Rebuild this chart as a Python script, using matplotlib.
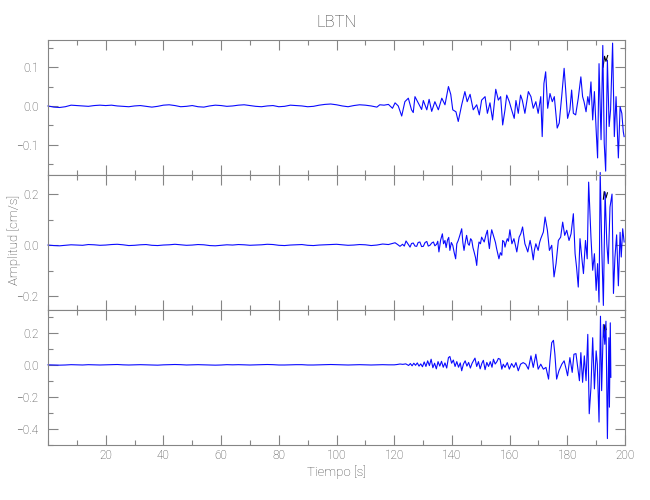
import numpy as np
import matplotlib
matplotlib.use('Agg')
import matplotlib.pyplot as plt
from matplotlib.ticker import MultipleLocator, FixedLocator, FuncFormatter

plt.rcParams['font.family'] = ['Roboto', 'DejaVu Sans']
plt.rcParams['font.weight'] = 'light'
plt.rcParams['axes.labelweight'] = 'light'

GRAY = '#858585'
TEXT = '#404040'
TRACE = '#0a0aff'

# ---- top trace (quiet part sampled every 2 s, then read point by point)
top_quiet = [0.000, -0.003, -0.004, -0.002, 0.002, 0.001, 0.000, -0.001, 0.001, 0.002,
             0.001, 0.002, 0.000, -0.001, -0.002, 0.000, 0.001, -0.001, -0.003, -0.001,
             0.002, 0.003, 0.001, -0.002, -0.001, 0.001, -0.002, -0.003, 0.000, 0.002,
             0.001, -0.001, 0.000, 0.002, 0.003, 0.001, -0.001, -0.002, 0.000, 0.001,
             -0.002, -0.001, 0.002, 0.001, 0.000, -0.002, -0.001, 0.002, 0.004, 0.005,
             0.003, 0.000, -0.002, 0.001, 0.003, 0.002, 0.000, -0.003]
top_t = [115.0, 116.5, 118.0, 119.4, 120.3, 121.4, 122.6, 123.7, 124.9, 126.0, 126.6, 127.2,
         128.4, 129.5, 130.1, 131.3, 132.1, 133.0, 134.1, 135.3, 136.5, 137.6, 138.8, 139.6,
         140.3, 141.4, 142.2, 143.4, 144.5, 145.3, 146.3, 147.4, 148.6, 149.5, 150.3, 151.5,
         152.3, 153.2, 154.1, 155.2, 156.1, 156.9, 157.6, 158.4, 159.0, 159.9, 160.7, 161.6,
         162.2, 163.0, 163.8, 164.4, 165.3, 166.5, 167.4, 168.2, 169.1, 169.9, 170.8, 171.3,
         171.9, 172.5, 173.2, 174.0, 174.8, 175.5, 176.1, 176.5, 177.2, 178.1, 178.9, 179.4,
         180.1, 180.9, 181.5, 182.1, 182.9, 183.8, 184.7, 185.3, 185.8, 186.5, 187.1, 187.6,
         188.2, 188.8, 189.4, 190.0, 190.5, 191.0, 191.7, 192.3, 192.8, 193.3, 193.9, 194.5,
         195.0, 195.7, 196.3, 196.9, 197.7, 198.3, 198.9, 199.4, 199.7]
top_v = [0.003, 0.002, 0.004, -0.006, 0.008, 0.000, -0.026, 0.011, 0.020, -0.010, -0.017, 0.024,
         0.007, -0.009, 0.014, -0.010, 0.017, -0.014, 0.011, -0.010, 0.020, 0.003, 0.050, 0.030,
         -0.010, -0.015, -0.040, 0.003, 0.037, 0.011, 0.030, -0.010, 0.003, -0.023, 0.015, 0.024,
         -0.019, 0.008, -0.036, 0.043, 0.015, 0.024, -0.049, -0.010, 0.028, 0.011, -0.010, -0.032,
         0.014, -0.019, 0.028, 0.015, -0.019, 0.037, 0.024, -0.006, 0.011, -0.019, 0.024, -0.079,
         0.058, 0.088, -0.006, 0.032, 0.011, 0.024, -0.023, -0.057, -0.044, 0.028, 0.097, 0.045,
         -0.032, -0.010, 0.041, -0.019, -0.023, 0.020, 0.075, 0.024, 0.011, -0.015, 0.024, 0.003,
         0.062, -0.036, 0.037, -0.062, -0.134, 0.109, -0.087, 0.156, -0.096, -0.168, 0.118, -0.053,
         -0.010, 0.162, -0.079, 0.024, -0.134, -0.002, -0.019, -0.066, -0.079]

# ---- middle trace
mid_quiet = [0.000, -0.002, -0.003, -0.001, 0.001, 0.000, -0.001, 0.002, 0.001, -0.001,
             0.000, 0.002, 0.003, 0.001, -0.002, -0.001, 0.001, 0.002, -0.001, -0.002,
             0.000, 0.001, 0.003, 0.001, -0.001, 0.000, 0.002, 0.001, -0.002, -0.003,
             -0.001, 0.001, 0.000, 0.002, 0.001, -0.001, 0.000, 0.001, 0.003, 0.002,
             -0.001, -0.002, 0.000, 0.001, 0.002, -0.001, -0.002, 0.000, 0.001, 0.002,
             0.003, 0.001, -0.001, 0.000, 0.002, 0.001, -0.002, 0.000, 0.004, 0.002]
mid_t = [120.3, 121.2, 122.0, 122.9, 123.5, 124.1, 124.8, 125.5, 126.0, 126.6, 127.2, 127.8,
         128.3, 128.9, 129.5, 130.1, 130.7, 131.3, 131.8, 132.4, 133.0, 133.6, 134.1, 134.7,
         135.1, 135.5, 136.1, 136.7, 137.1, 137.6, 138.0, 138.5, 138.9, 139.3, 139.8, 140.3,
         140.8, 141.3, 141.7, 142.2, 142.8, 143.4, 143.8, 144.2, 144.7, 145.1, 145.6, 146.0,
         146.5, 146.9, 147.3, 147.7, 148.2, 148.6, 149.0, 149.4, 149.9, 150.3, 150.8, 151.2,
         151.8, 152.3, 152.7, 153.0, 153.4, 153.8, 154.2, 154.6, 155.1, 155.5, 156.0, 156.3,
         156.8, 157.3, 157.6, 158.1, 158.4, 158.8, 159.2, 159.6, 160.1, 160.8, 161.5, 162.0,
         162.5, 163.3, 163.9, 164.5, 165.3, 165.8, 166.3, 167.1, 167.6, 168.2, 168.6, 169.1,
         169.9, 170.4, 170.8, 171.7, 172.3, 172.7, 173.1, 173.8, 174.6, 175.0, 175.4, 176.1,
         176.9, 177.7, 178.4, 179.1, 179.8, 180.6, 181.3, 182.1, 182.7, 183.2, 183.8, 184.4,
         185.0, 185.6, 186.3, 186.9, 187.4, 188.2, 188.8, 189.4, 190.0, 190.5, 191.0, 191.4,
         192.0, 192.5, 193.1, 193.7, 194.2, 194.8, 195.5, 196.0, 196.5, 197.1, 197.7, 198.3,
         198.7, 199.2, 199.7]
mid_v = [0.009, 0.002, -0.005, 0.003, -0.004, 0.016, 0.004, -0.008, 0.006, 0.008, -0.004, -0.005,
         0.010, 0.012, -0.006, -0.005, 0.010, 0.014, -0.004, -0.001, 0.008, 0.012, -0.003, 0.003,
         0.015, -0.027, 0.020, 0.044, 0.005, 0.018, -0.010, 0.021, 0.030, -0.021, 0.010, -0.001,
         -0.030, -0.054, 0.005, 0.018, 0.040, 0.064, 0.010, -0.021, 0.015, 0.038, 0.005, -0.001,
         0.025, 0.018, -0.010, -0.027, -0.050, -0.080, -0.020, 0.012, 0.005, 0.031, 0.020, 0.012,
         0.040, 0.058, 0.010, -0.014, 0.030, 0.060, 0.045, 0.031, 0.010, -0.014, -0.040, -0.054,
         -0.030, -0.040, 0.018, 0.012, -0.008, 0.010, 0.025, 0.015, 0.060, 0.005, 0.025, 0.000,
         -0.027, 0.031, 0.045, 0.071, 0.005, -0.010, -0.027, 0.018, -0.010, -0.058, -0.020, 0.005,
         -0.021, 0.010, 0.025, 0.051, 0.110, 0.085, 0.058, -0.021, -0.001, -0.060, -0.125, -0.073,
         0.018, 0.031, 0.090, 0.038, 0.058, 0.018, 0.044, 0.123, -0.034, -0.086, -0.165, 0.025,
         -0.047, -0.112, 0.018, -0.054, 0.247, 0.031, -0.099, -0.034, -0.178, -0.073, -0.224, 0.285,
         -0.034, -0.237, 0.208, 0.005, -0.073, 0.149, 0.200, -0.190, -0.050, 0.040, -0.160, 0.050,
         -0.047, 0.064, 0.012]

# ---- bottom trace
bot_quiet = [0.000, -0.001, -0.002, -0.001, 0.001, 0.000, -0.001, 0.001, 0.000, -0.001,
             0.000, 0.001, 0.002, 0.000, -0.001, 0.000, 0.001, 0.000, -0.001, -0.002,
             0.000, 0.001, 0.002, 0.001, -0.001, 0.000, 0.001, 0.000, -0.001, -0.002,
             -0.001, 0.001, 0.000, 0.001, 0.000, -0.001, 0.000, 0.001, 0.002, 0.001,
             -0.001, -0.001, 0.000, 0.001, 0.001, -0.001, -0.001, 0.000, 0.001, 0.002,
             0.001, 0.000, -0.001, 0.000, 0.001, 0.000, -0.001, 0.000, 0.001, 0.000]
bot_t = [120.0, 121.0, 122.0, 123.0, 124.0, 125.0, 125.6, 126.2, 126.8, 127.4, 128.0, 128.6,
         129.2, 129.8, 130.4, 131.0, 131.6, 132.2, 132.8, 133.4, 134.0, 134.6, 135.2, 135.8,
         136.4, 137.0, 137.6, 138.2, 138.8, 139.3, 139.9, 140.5, 141.1, 141.7, 142.3, 142.9,
         143.4, 144.0, 144.6, 145.2, 145.8, 146.4, 147.0, 147.6, 148.0, 148.6, 149.2, 149.8,
         150.4, 150.9, 151.5, 152.1, 152.7, 153.3, 153.9, 154.4, 155.0, 155.6, 156.1, 156.7,
         157.3, 157.8, 158.4, 159.2, 159.9, 160.7, 161.5, 162.2, 163.0, 163.8, 164.7, 165.6,
         166.5, 167.4, 168.2, 169.1, 169.9, 170.8, 171.7, 172.6, 173.5, 174.0, 174.6, 175.2,
         175.7, 176.3, 177.1, 178.1, 178.9, 179.6, 180.1, 180.9, 181.7, 182.3, 183.0, 183.6,
         184.2, 184.7, 185.3, 185.9, 186.5, 187.1, 187.6, 188.2, 188.8, 189.4, 190.0, 190.4,
         191.0, 191.5, 191.9, 192.5, 193.0, 193.4, 193.9, 194.4, 194.6, 194.9, 195.1]
bot_v = [0.000, 0.002, 0.005, 0.003, 0.006, -0.004, 0.008, -0.006, 0.010, -0.003, 0.012, -0.008,
         0.006, -0.012, 0.018, -0.010, 0.025, -0.005, 0.035, -0.018, 0.010, -0.025, 0.020, -0.008,
         0.022, -0.015, 0.012, -0.020, 0.045, 0.052, 0.010, 0.030, -0.010, 0.020, -0.015, 0.012,
         -0.037, 0.005, 0.025, -0.008, 0.015, -0.020, 0.010, 0.030, 0.042, -0.010, 0.020, -0.025,
         0.010, 0.028, -0.030, 0.015, -0.010, 0.020, -0.015, 0.035, 0.005, 0.020, 0.040, 0.035,
         -0.027, 0.004, -0.016, 0.014, -0.027, 0.008, -0.016, 0.014, -0.037, 0.004, 0.014, 0.004,
         -0.027, 0.056, -0.016, 0.066, -0.027, 0.004, -0.027, -0.016, -0.089, 0.025, 0.138, 0.153,
         0.066, -0.089, -0.037, 0.004, 0.025, -0.027, -0.068, 0.045, -0.047, 0.066, 0.070, -0.016,
         -0.099, 0.076, -0.109, 0.056, -0.099, 0.190, -0.305, -0.140, 0.169, -0.150, 0.087, 0.004,
         -0.357, 0.303, -0.161, 0.252, 0.128, 0.272, -0.460, 0.169, -0.264, 0.262, -0.078]

# black overlay visible near the largest peaks
blk_top_t = [192.4, 192.9, 193.4, 194.0]
blk_top_v = [0.100, 0.128, 0.115, 0.130]
blk_mid_t = [192.5, 192.8, 193.4, 193.9]
blk_mid_v = [0.180, 0.210, 0.185, 0.205]
blk_bot_t = [192.6, 193.0, 193.5]
blk_bot_v = [0.175, 0.250, 0.220]

PANELS = [
    (top_quiet, top_t, top_v, blk_top_t, blk_top_v, (-0.178, 0.170), [-0.1, 0.0, 0.1], 0.05),
    (mid_quiet, mid_t, mid_v, blk_mid_t, blk_mid_v, (-0.255, 0.275), [-0.2, 0.0, 0.2], 0.1),
    (bot_quiet, bot_t, bot_v, blk_bot_t, blk_bot_v, (-0.50, 0.342), [-0.4, -0.2, 0.0, 0.2], 0.1),
]

fig = plt.figure(figsize=(6.5, 5), dpi=100)
left, width, height = 48 / 650, 577 / 650, 135 / 500
bottoms = [1 - 175 / 500, 1 - 310 / 500, 1 - 445 / 500]

fmt = FuncFormatter(lambda v, p: ('%.1f' % v).replace('-', '\u2212'))

axes = []
for (quiet, t, v, bt, bv, ylim, majors, minor), b in zip(PANELS, bottoms):
    ax = fig.add_axes([left, b, width, height])
    tq = np.arange(len(quiet)) * 2.0
    ax.plot(bt, bv, color='black', lw=0.8, clip_on=False)
    ax.plot(np.concatenate([tq, t]), np.concatenate([quiet, v]),
            color=TRACE, lw=0.8, clip_on=False)
    ax.set_xlim(0, 200)
    ax.set_ylim(*ylim)
    ax.xaxis.set_major_locator(FixedLocator(np.arange(20, 201, 20)))
    ax.xaxis.set_minor_locator(MultipleLocator(10))
    ax.yaxis.set_major_locator(FixedLocator(majors))
    ax.yaxis.set_minor_locator(MultipleLocator(minor))
    ax.yaxis.set_major_formatter(fmt)
    ax.tick_params(which='both', direction='in', top=True, right=True,
                   color=GRAY, labelcolor=TEXT, labelsize=8.5, width=0.8)
    ax.tick_params(which='major', length=7)
    ax.tick_params(which='minor', length=3.5)
    ax.tick_params(axis='y', pad=7)
    for s in ax.spines.values():
        s.set_color(GRAY)
        s.set_linewidth(0.8)
    axes.append(ax)

for ax in axes[:2]:
    ax.tick_params(labelbottom=False)
axes[2].tick_params(axis='x', pad=3)

axes[2].set_xlabel('Tiempo [s]', color=TEXT, fontsize=9.5, fontweight='light', labelpad=2)
fig.text(0.022, 0.52, 'Amplitud [cm/s]', rotation=90, color=TEXT, fontsize=9.5,
         fontweight='light', ha='center', va='center')
fig.text(0.517, 0.955, 'LBTN', color=TEXT, fontsize=12, fontweight='light',
         ha='center', va='center')

fig.savefig('out.png', dpi=100)
